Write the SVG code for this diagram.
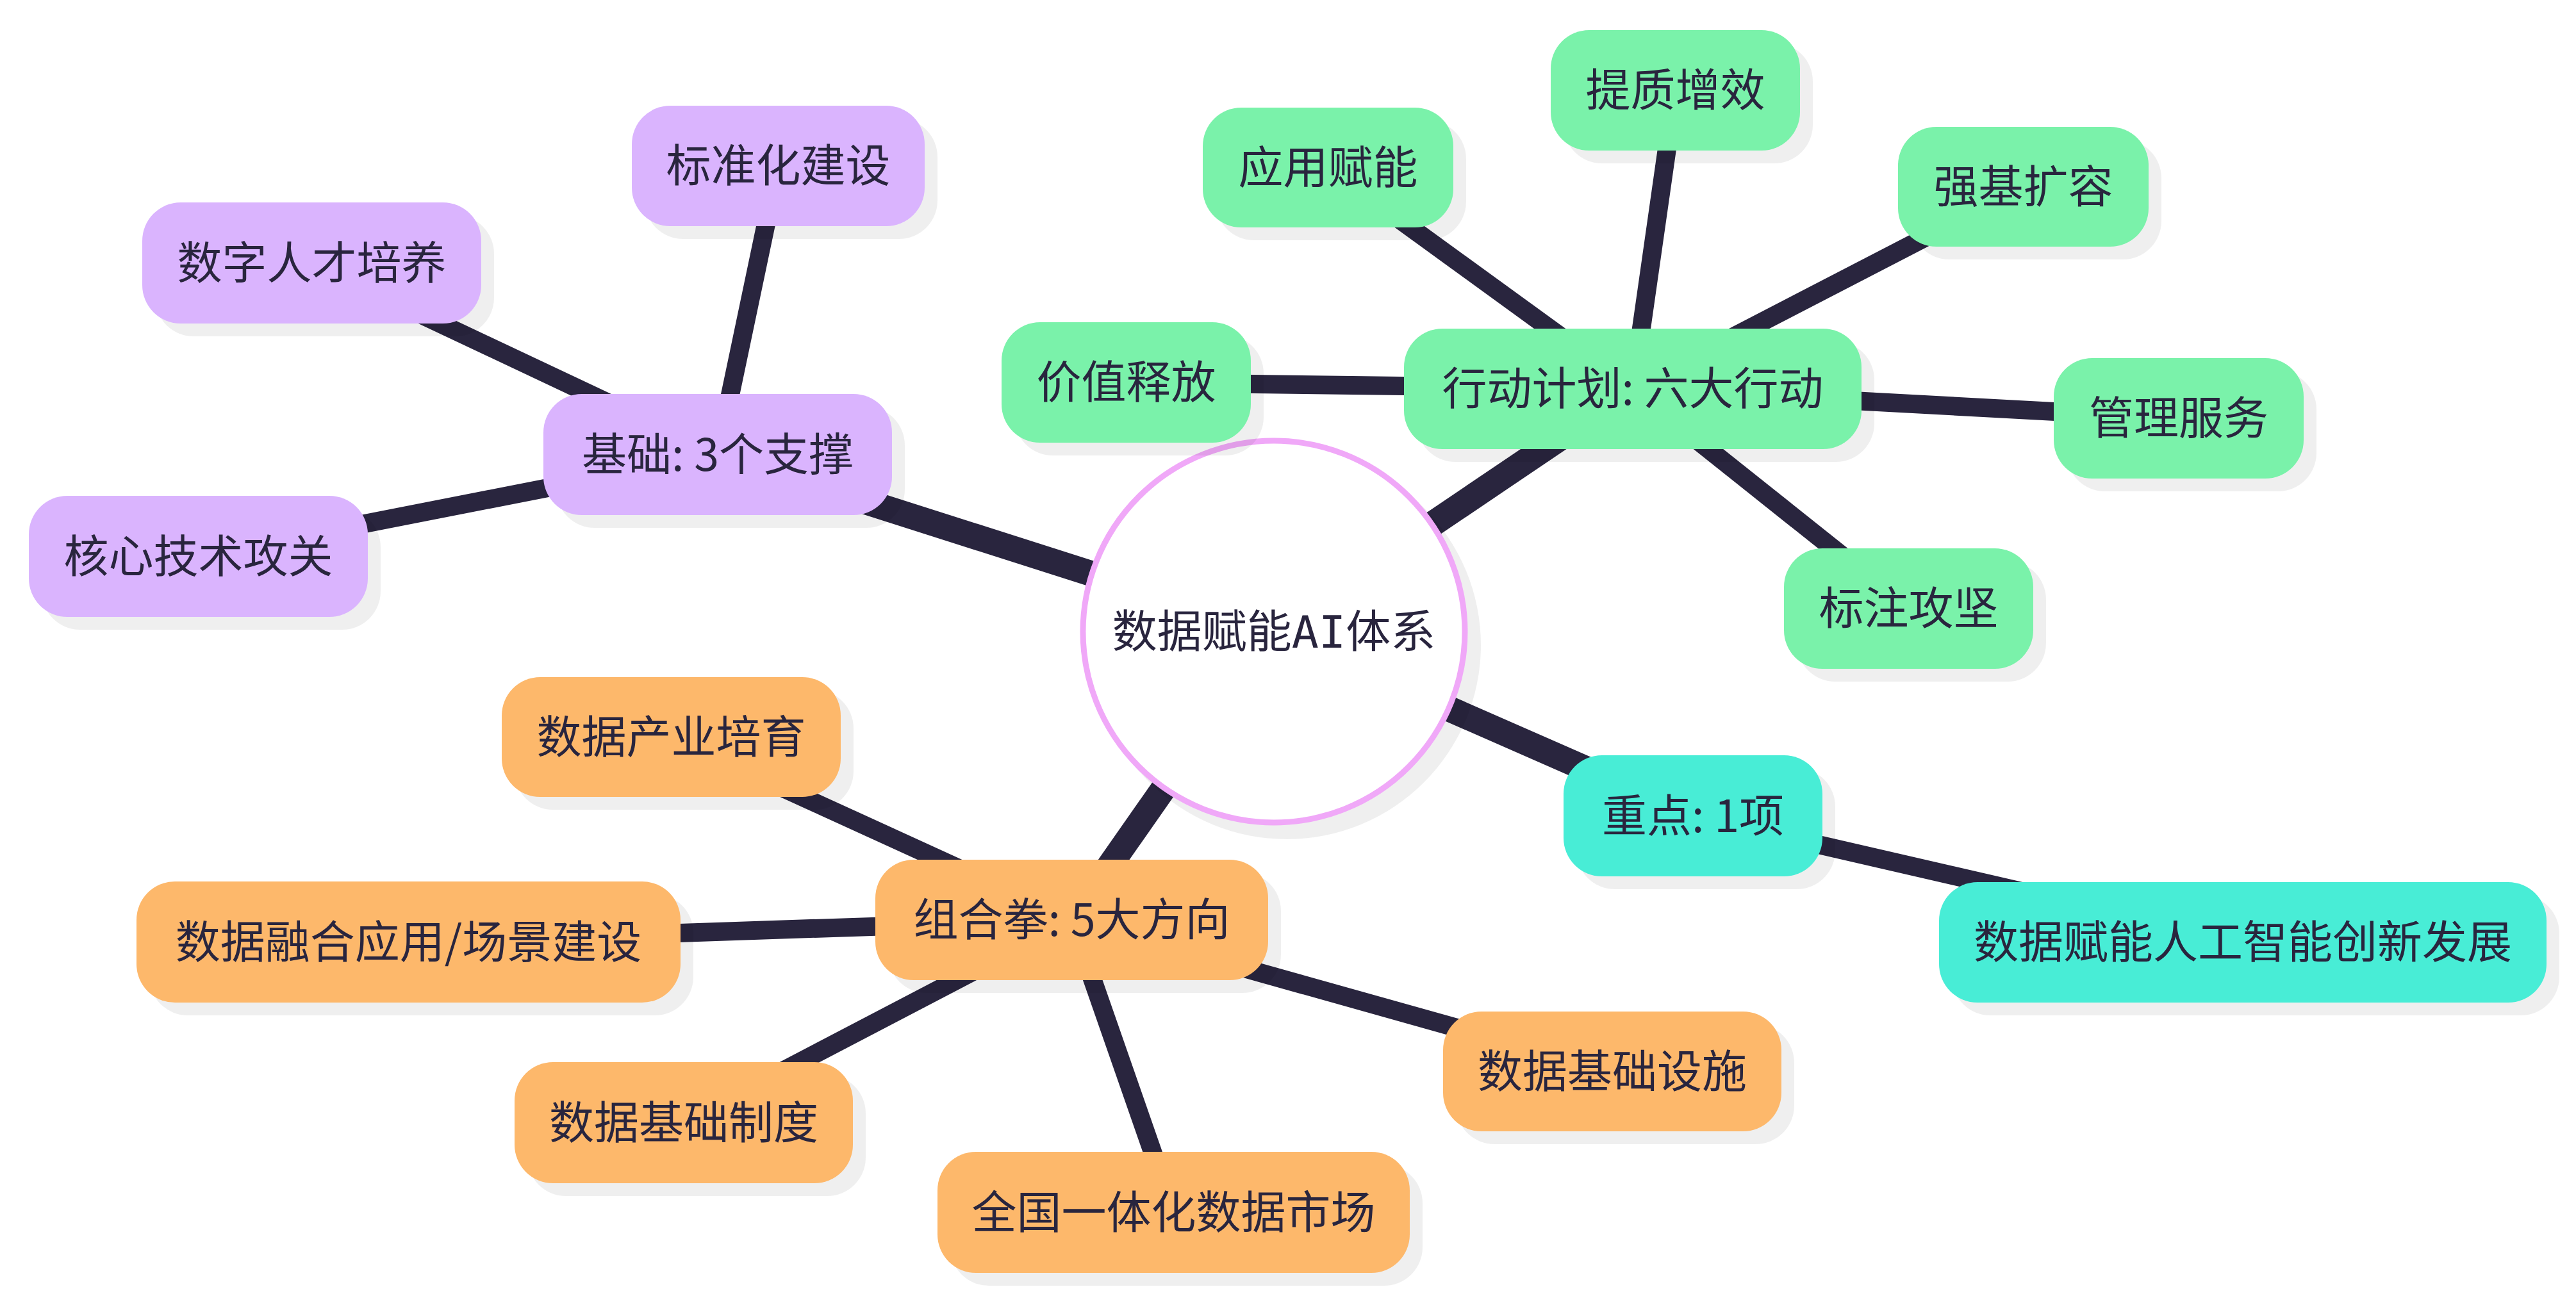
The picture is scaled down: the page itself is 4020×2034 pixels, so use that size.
<svg xmlns="http://www.w3.org/2000/svg" width="4020" height="2034" viewBox="0 0 4020 2034">
<style>
.edge{stroke:#29253E;stroke-linecap:butt;fill:none}
.main{stroke-width:40}
.leaf{stroke-width:29}
.sh{fill:#000;fill-opacity:0.063}
.purple{fill:#DAB4FE}
.green{fill:#7AF2AA}
.orange{fill:#FDB86B}
.teal{fill:#48EDD6}
text{font-family:"Noto Sans CJK SC","Noto Sans",sans-serif;font-size:70px;fill:#29253E;text-anchor:middle}
.ctext{font-family:"DejaVu Sans Mono","Noto Sans CJK SC",monospace}
</style>
<rect width="4020" height="2034" fill="#ffffff"/>
<g id="connectors">
<line class="edge main" x1="1987" y1="986" x2="1120" y2="709.5"/>
<line class="edge main" x1="1987" y1="986" x2="2548" y2="607"/>
<line class="edge main" x1="1987" y1="986" x2="1672.5" y2="1436"/>
<line class="edge main" x1="1987" y1="986" x2="2642" y2="1273.5"/>
<line class="edge leaf" x1="1120" y1="709.5" x2="1214.5" y2="259"/>
<line class="edge leaf" x1="1120" y1="709.5" x2="486.5" y2="410.5"/>
<line class="edge leaf" x1="1120" y1="709.5" x2="309.5" y2="868.5"/>
<line class="edge leaf" x1="2548" y1="607" x2="2072.5" y2="261.5"/>
<line class="edge leaf" x1="2548" y1="607" x2="2614.5" y2="141"/>
<line class="edge leaf" x1="2548" y1="607" x2="3157.5" y2="291.5"/>
<line class="edge leaf" x1="2548" y1="607" x2="1757.5" y2="597"/>
<line class="edge leaf" x1="2548" y1="607" x2="3400" y2="653"/>
<line class="edge leaf" x1="2548" y1="607" x2="2978.5" y2="950"/>
<line class="edge leaf" x1="1672.5" y1="1436" x2="1047.5" y2="1150.5"/>
<line class="edge leaf" x1="1672.5" y1="1436" x2="637.5" y2="1470.5"/>
<line class="edge leaf" x1="1672.5" y1="1436" x2="1067" y2="1752.5"/>
<line class="edge leaf" x1="1672.5" y1="1436" x2="1831.5" y2="1892.5"/>
<line class="edge leaf" x1="1672.5" y1="1436" x2="2516" y2="1672.5"/>
<line class="edge leaf" x1="2642" y1="1273.5" x2="3500" y2="1471"/>
</g>
<g id="root">
<circle class="sh" cx="2008" cy="1007" r="303"/>
<circle cx="1988" cy="986" r="298" fill="#ffffff" stroke="#F0A8F8" stroke-width="9"/>
<text class="ctext" x="1988" y="1011">数据赋能AI体系</text>
</g>
<g id="n-jichu">
<rect class="sh" x="868" y="635" width="544" height="189" rx="60"/>
<rect class="purple" x="848" y="615" width="544" height="189" rx="60"/>
<text x="1120" y="735">基础: 3个支撑</text>
</g>
<g id="n-biaozhun">
<rect class="sh" x="1006" y="185" width="457" height="188" rx="60"/>
<rect class="purple" x="986" y="165" width="457" height="188" rx="60"/>
<text x="1214.5" y="284">标准化建设</text>
</g>
<g id="n-rencai">
<rect class="sh" x="242" y="336" width="529" height="189" rx="60"/>
<rect class="purple" x="222" y="316" width="529" height="189" rx="60"/>
<text x="486.5" y="435.5">数字人才培养</text>
</g>
<g id="n-jishu">
<rect class="sh" x="65" y="794" width="529" height="189" rx="60"/>
<rect class="purple" x="45" y="774" width="529" height="189" rx="60"/>
<text x="309.5" y="893.5">核心技术攻关</text>
</g>
<g id="n-xingdong">
<rect class="sh" x="2211" y="533" width="714" height="188" rx="60"/>
<rect class="green" x="2191" y="513" width="714" height="188" rx="60"/>
<text x="2548" y="632">行动计划: 六大行动</text>
</g>
<g id="n-yingyong">
<rect class="sh" x="1897" y="188" width="391" height="187" rx="60"/>
<rect class="green" x="1877" y="168" width="391" height="187" rx="60"/>
<text x="2072.5" y="286.5">应用赋能</text>
</g>
<g id="n-tizhi">
<rect class="sh" x="2440" y="67" width="389" height="188" rx="60"/>
<rect class="green" x="2420" y="47" width="389" height="188" rx="60"/>
<text x="2614.5" y="166">提质增效</text>
</g>
<g id="n-qiangji">
<rect class="sh" x="2982" y="218" width="391" height="187" rx="60"/>
<rect class="green" x="2962" y="198" width="391" height="187" rx="60"/>
<text x="3157.5" y="316.5">强基扩容</text>
</g>
<g id="n-jiazhi">
<rect class="sh" x="1583" y="523" width="389" height="188" rx="60"/>
<rect class="green" x="1563" y="503" width="389" height="188" rx="60"/>
<text x="1757.5" y="622">价值释放</text>
</g>
<g id="n-guanli">
<rect class="sh" x="3225" y="579" width="390" height="188" rx="60"/>
<rect class="green" x="3205" y="559" width="390" height="188" rx="60"/>
<text x="3400" y="678">管理服务</text>
</g>
<g id="n-biaozhu">
<rect class="sh" x="2804" y="876" width="389" height="188" rx="60"/>
<rect class="green" x="2784" y="856" width="389" height="188" rx="60"/>
<text x="2978.5" y="975">标注攻坚</text>
</g>
<g id="n-zuhe">
<rect class="sh" x="1386" y="1362" width="613" height="188" rx="60"/>
<rect class="orange" x="1366" y="1342" width="613" height="188" rx="60"/>
<text x="1672.5" y="1461">组合拳: 5大方向</text>
</g>
<g id="n-chanye">
<rect class="sh" x="803" y="1077" width="529" height="187" rx="60"/>
<rect class="orange" x="783" y="1057" width="529" height="187" rx="60"/>
<text x="1047.5" y="1175.5">数据产业培育</text>
</g>
<g id="n-ronghe">
<rect class="sh" x="233" y="1396" width="849" height="189" rx="60"/>
<rect class="orange" x="213" y="1376" width="849" height="189" rx="60"/>
<text x="637.5" y="1495.5">数据融合应用/场景建设</text>
</g>
<g id="n-zhidu">
<rect class="sh" x="823" y="1678" width="528" height="189" rx="60"/>
<rect class="orange" x="803" y="1658" width="528" height="189" rx="60"/>
<text x="1067" y="1777.5">数据基础制度</text>
</g>
<g id="n-shichang">
<rect class="sh" x="1483" y="1818" width="737" height="189" rx="60"/>
<rect class="orange" x="1463" y="1798" width="737" height="189" rx="60"/>
<text x="1831.5" y="1917.5">全国一体化数据市场</text>
</g>
<g id="n-sheshi">
<rect class="sh" x="2272" y="1599" width="528" height="187" rx="60"/>
<rect class="orange" x="2252" y="1579" width="528" height="187" rx="60"/>
<text x="2516" y="1697.5">数据基础设施</text>
</g>
<g id="n-zhongdian">
<rect class="sh" x="2460" y="1199" width="404" height="189" rx="60"/>
<rect class="teal" x="2440" y="1179" width="404" height="189" rx="60"/>
<text x="2642" y="1298.5">重点: 1项</text>
</g>
<g id="n-chuangxin">
<rect class="sh" x="3046" y="1397" width="948" height="188" rx="60"/>
<rect class="teal" x="3026" y="1377" width="948" height="188" rx="60"/>
<text x="3500" y="1496">数据赋能人工智能创新发展</text>
</g>
</svg>
